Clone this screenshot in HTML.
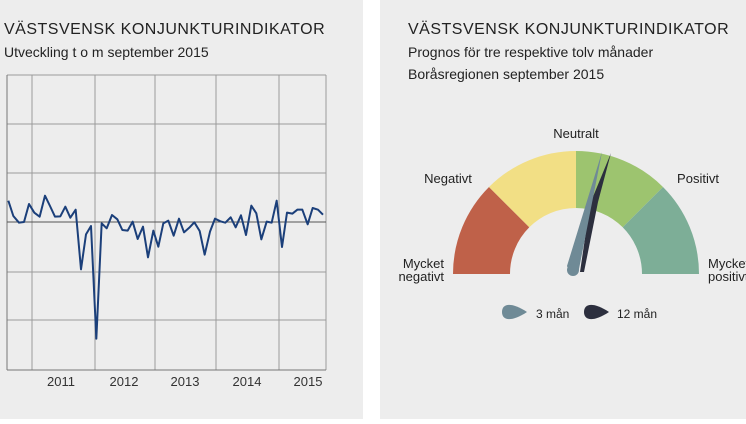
<!DOCTYPE html><html><head><meta charset="utf-8"><style>
body{margin:0;width:746px;height:419px;background:#fff;overflow:hidden;font-family:"Liberation Sans",sans-serif}
</style></head><body>
<svg width="746" height="419" xmlns="http://www.w3.org/2000/svg" font-family="Liberation Sans, sans-serif">
<rect x="0" y="0" width="363" height="419" fill="#ededed"/>
<rect x="380" y="0" width="366" height="419" fill="#ededed"/>
<text x="4" y="34" font-size="16" fill="#222" letter-spacing="0.5">VÄSTSVENSK KONJUNKTURINDIKATOR</text>
<text x="4" y="57" font-size="14" fill="#222">Utveckling t o m september 2015</text>
<g stroke="#9a9a9a" stroke-width="1">
<line x1="7" y1="75" x2="326" y2="75"/><line x1="7" y1="124" x2="326" y2="124"/><line x1="7" y1="173" x2="326" y2="173"/>
<line x1="7" y1="272" x2="326" y2="272"/><line x1="7" y1="320" x2="326" y2="320"/>
<line x1="32" y1="75" x2="32" y2="370"/><line x1="95" y1="75" x2="95" y2="370"/><line x1="155" y1="75" x2="155" y2="370"/><line x1="216" y1="75" x2="216" y2="370"/><line x1="279" y1="75" x2="279" y2="370"/><line x1="326" y1="75" x2="326" y2="370"/>
</g>
<line x1="7" y1="75" x2="7" y2="370" stroke="#777"/>
<line x1="7" y1="370" x2="326" y2="370" stroke="#777"/>
<line x1="7" y1="222" x2="326" y2="222" stroke="#555"/>
<g transform="translate(0,60) scale(0.33333)">
<polyline fill="none" stroke="#1b3f7a" stroke-width="6" stroke-linejoin="round" points="25,422 40,468 57,488 72,486 87,432 103,458 119,470 135,407 150,438 165,470 181,469 196,440 211,473 227,449 243,628 258,523 273,498 289,836 305,490 320,505 336,465 352,478 367,510 383,512 398,485 413,537 429,500 444,592 460,512 475,560 490,490 505,482 521,527 537,476 552,517 568,503 583,487 599,513 614,584 630,515 645,476 661,484 676,488 692,472 707,502 723,466 738,525 754,437 769,460 784,538 800,485 815,488 830,422 846,561 861,458 877,461 892,449 907,449 923,493 938,444 954,449 969,464"/>
</g>
<g font-size="13" fill="#333" text-anchor="middle">
<text x="61" y="386">2011</text><text x="124" y="386">2012</text><text x="185" y="386">2013</text><text x="247" y="386">2014</text><text x="308" y="386">2015</text>
</g>
<text x="408" y="34" font-size="16" fill="#222" letter-spacing="0.5">VÄSTSVENSK KONJUNKTURINDIKATOR</text>
<text x="408" y="57" font-size="14" fill="#222">Prognos för tre respektive tolv månader</text>
<text x="408" y="79" font-size="14" fill="#222">Boråsregionen september 2015</text>
<g transform="translate(576,274)">
<path d="M-123,0 A123,123 0 0 1 -87,-87 L-46.7,-46.7 A66,66 0 0 0 -66,0Z" fill="#bf6149"/>
<path d="M-87,-87 A123,123 0 0 1 0,-123 L0,-66 A66,66 0 0 0 -46.7,-46.7Z" fill="#f2df85"/>
<path d="M0,-123 A123,123 0 0 1 87,-87 L46.7,-46.7 A66,66 0 0 0 0,-66Z" fill="#9dc46f"/>
<path d="M87,-87 A123,123 0 0 1 123,0 L66,0 A66,66 0 0 0 46.7,-46.7Z" fill="#7dae97"/>
<path d="M35,-121 L22,-72 L8,-2 L4,-2 L14,-70Z" fill="#2c2f3e"/>
<path d="M26,-122 L3,-5 A7,7 0 0 1 -9,-8 Z" fill="#6f8a96"/>
<circle cx="-3" cy="-4" r="6" fill="#6f8a96"/>
</g>
<g font-size="13" fill="#222">
<text x="576" y="138" text-anchor="middle">Neutralt</text>
<text x="448" y="183" text-anchor="middle">Negativt</text>
<text x="698" y="183" text-anchor="middle">Positivt</text>
<text x="444" y="268" text-anchor="end">Mycket</text>
<text x="444" y="281" text-anchor="end">negativt</text>
<text x="708" y="268">Mycket</text>
<text x="708" y="281">positivt</text>
</g>
<path d="M502,312 C502,303 512,302 527,312 C512,322 502,321 502,312Z" fill="#6f8a96"/>
<text x="536" y="318" font-size="12" fill="#222">3 mån</text>
<path d="M584,312 C584,303 594,302 609,312 C594,322 584,321 584,312Z" fill="#2c2f3e"/>
<text x="617" y="318" font-size="12" fill="#222">12 mån</text>
</svg>
</body></html>
